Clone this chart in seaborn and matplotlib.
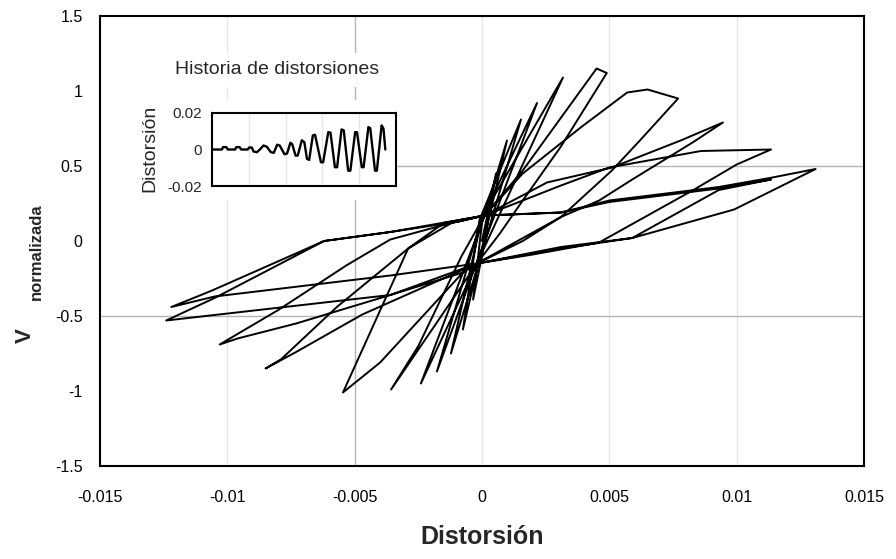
import pandas as pd
import matplotlib
matplotlib.use('Agg')
import matplotlib.pyplot as plt
import seaborn as sns
from matplotlib.patches import Rectangle

# hysteresis path, one list pair per cycle (distorsion, V normalizada)
c1_x = [0.0, 0.00055, 0.0, -0.00035, 0.0]
c1_y = [0.0, 0.45, -0.10, -0.39, 0.12]
c2_x = [0.00098, -0.0001, -0.00075, -0.0001]
c2_y = [0.67, -0.12, -0.59, 0.14]
c3_x = [0.00153, -0.0001, -0.00122, 0.0]
c3_y = [0.81, -0.13, -0.75, 0.15]
c4_x = [0.00216, -0.0002, -0.00177, 0.0]
c4_y = [0.92, -0.14, -0.87, 0.16]
c5_x = [0.00318, -0.0002, -0.0024, 0.0001]
c5_y = [1.09, -0.15, -0.95, 0.17]
c6_x = [0.0016, 0.0045, 0.0049, 0.0031, 0.0016, 0.0007, -0.0002, -0.0020, -0.00357, -0.0025, -0.0008, 0.0001]
c6_y = [0.47, 1.15, 1.12, 0.63, 0.27, 0.05, -0.15, -0.60, -0.99, -0.70, -0.10, 0.17]
c7_x = [0.0016, 0.0039, 0.0057, 0.0065, 0.0077, 0.0062, 0.0051, 0.0031, 0.0016, -0.0002, -0.00075,
        -0.0040, -0.00546, -0.0029, -0.0015, 0.0001]
c7_y = [0.45, 0.76, 0.99, 1.01, 0.95, 0.67, 0.47, 0.16, 0.0, -0.15, -0.21,
        -0.81, -1.01, -0.05, 0.12, 0.17]
c8_x = [0.00255, 0.0051, 0.0078, 0.00946, 0.0083, 0.0059, 0.0046, 0.0031, -0.0002, -0.0047,
        -0.0073, -0.0085, -0.0079, -0.0057, -0.0029, -0.0012, 0.0001]
c8_y = [0.39, 0.49, 0.67, 0.79, 0.66, 0.41, 0.27, 0.16, -0.15, -0.49,
        -0.74, -0.85, -0.79, -0.44, -0.05, 0.12, 0.17]
c9_x = [0.0031, 0.0050, 0.0086, 0.01135, 0.0100, 0.0083, 0.0046, 0.0020, -0.0002, -0.0036,
        -0.0073, -0.0096, -0.0103, -0.0080, -0.0053, -0.0036, -0.0010, 0.0001]
c9_y = [0.37, 0.49, 0.60, 0.61, 0.51, 0.34, -0.01, -0.09, -0.15, -0.36,
        -0.55, -0.65, -0.69, -0.46, -0.16, 0.01, 0.13, 0.17]
c10_x = [0.0031, 0.0050, 0.0093, 0.0113, 0.0131, 0.0099, 0.0059, 0.0031, -0.0002, -0.00075,
         -0.0036, -0.0124, -0.0105, -0.0062, -0.0036, -0.0009, 0.0001]
c10_y = [0.19, 0.27, 0.36, 0.42, 0.48, 0.21, 0.02, -0.04, -0.15, -0.21,
         -0.36, -0.53, -0.38, 0.0, 0.06, 0.13, 0.17]
c11_x = [0.0031, 0.0050, 0.0093, 0.01135, 0.0093, 0.0059, 0.0031, -0.0002, -0.0036, -0.0105,
         -0.0122, -0.0106, -0.0062, -0.0036, -0.0009, 0.0001]
c11_y = [0.19, 0.26, 0.35, 0.41, 0.34, 0.02, -0.05, -0.15, -0.23, -0.37,
         -0.44, -0.33, 0.0, 0.06, 0.14, 0.17]

# inset: history of distortion
hist_t = [0, 0.27, 0.30, 0.39, 0.43, 0.63, 0.66, 0.75, 0.79, 0.97, 1.01, 1.08, 1.13, 1.22, 1.30,
          1.40, 1.49, 1.60, 1.68, 1.77, 1.84, 1.97, 2.04, 2.13, 2.18, 2.27, 2.33, 2.44, 2.51,
          2.58, 2.64, 2.74, 2.80, 2.96, 3.02, 3.16, 3.22, 3.34, 3.40, 3.52, 3.58, 3.70, 3.76,
          3.89, 3.94, 4.07, 4.12, 4.25, 4.30, 4.43, 4.48, 4.61, 4.66, 4.71]
hist_d = [0, 0, 0.0013, 0.0013, 0, 0, 0.0013, 0.0013, 0, 0, 0.0011, 0.0011, -0.0011, -0.0015, 0,
          0.0022, 0.0015, -0.0015, -0.0018, 0.0026, 0.0022, -0.0026, -0.0022, 0.0037, 0.0029,
          -0.0033, -0.0033, 0.005, 0.004, -0.0051, -0.0057, 0.0077, 0.0081, -0.007, -0.007,
          0.0095, 0.0092, -0.0097, -0.0097, 0.011, 0.0105, -0.0116, -0.0116, 0.0095, 0.0095,
          -0.0097, -0.0097, 0.0123, 0.0117, -0.0116, -0.0116, 0.0132, 0.0114, 0]

xticks = [-0.015, -0.01, -0.005, 0, 0.005, 0.01, 0.015]
xtick_labels = ['-0.015', '-0.01', '-0.005', '0', '0.005', '0.01', '0.015']
yticks = [-1.5, -1, -0.5, 0, 0.5, 1, 1.5]
ytick_labels = ['-1.5', '-1', '-0.5', '0', '0.5', '1', '1.5']

cx = [c1_x, c2_x, c3_x, c4_x, c5_x, c6_x, c7_x, c8_x, c9_x, c10_x, c11_x]
cy = [c1_y, c2_y, c3_y, c4_y, c5_y, c6_y, c7_y, c8_y, c9_y, c10_y, c11_y]
df = pd.DataFrame({'x': sum(cx, []), 'y': sum(cy, [])})

sns.set_style('white')
plt.rcParams['font.family'] = ['Liberation Sans', 'DejaVu Sans']

fig = plt.figure(figsize=(8.96, 5.59), dpi=100)
ax = fig.add_axes([100/896, 1-466/559, 764/896, 450/559])

# Excel-like grid lines
for gx in [-0.01, 0, 0.005, 0.01]:
    ax.axvline(gx, color='#e6e6e6', lw=1, zorder=1)
ax.axvline(-0.005, color='#b4b4b4', lw=1, zorder=1)
for gy in [-0.5, 0.5]:
    ax.axhline(gy, color='#b4b4b4', lw=1, zorder=1)
ax.add_patch(Rectangle((-0.01496, 0.273), 0.01162, 0.667, facecolor='white',
                       edgecolor='none', zorder=1.5))

sns.lineplot(data=df, x='x', y='y', sort=False, estimator=None, color='black',
             lw=1.4, ax=ax, zorder=3)

ax.set_xlim(-0.015, 0.015)
ax.set_ylim(-1.5, 1.5)
ax.set_xticks(xticks)
ax.set_xticklabels(xtick_labels)
ax.set_yticks(yticks)
ax.set_yticklabels(ytick_labels)
ax.set_xlabel('')
ax.set_ylabel('')
ax.tick_params(direction='inout', length=7, width=1.5, labelsize=11.5, colors='black')
ax.tick_params(axis='x', pad=14)
ax.tick_params(axis='y', pad=9)
for s in ax.spines.values():
    s.set_color('black')
    s.set_linewidth(1.5)

fig.text(482/896, 1-537/559, 'Distorsión', ha='center', va='center',
         fontsize=18, fontweight='bold')
fig.text(25/896, 1-336/559, 'V', ha='center', va='center', rotation=90,
         fontsize=16, fontweight='bold')
fig.text(36/896, 1-252/559, 'normalizada', ha='center', va='center', rotation=90,
         fontsize=12, fontweight='bold')

# inset
axin = fig.add_axes([212/896, 1-186/559, 184/896, 73/559])
for gx in [1, 2, 3, 4]:
    axin.axvline(gx, color='#e6e6e6', lw=1, zorder=1)
sns.lineplot(x=hist_t, y=hist_d, sort=False, estimator=None, color='black',
             lw=1.7, ax=axin, zorder=3)
axin.set_xlim(0, 5)
axin.set_ylim(-0.02, 0.02)
axin.set_xticks([])
axin.set_yticks([-0.02, 0, 0.02])
axin.set_yticklabels(['-0.02', '0', '0.02'])
axin.tick_params(axis='y', direction='out', length=5, width=1.5, labelsize=11, pad=2)
for s in axin.spines.values():
    s.set_color('black')
    s.set_linewidth(1.5)
fig.text(277/896, 1-70/559, 'Historia de distorsiones', ha='center', va='center',
         fontsize=14, bbox=dict(facecolor='white', edgecolor='none', pad=6))
fig.text(150/896, 1-148/559, 'Distorsión', ha='center', va='center', rotation=90,
         fontsize=14)

fig.savefig('out.png', dpi=100)
